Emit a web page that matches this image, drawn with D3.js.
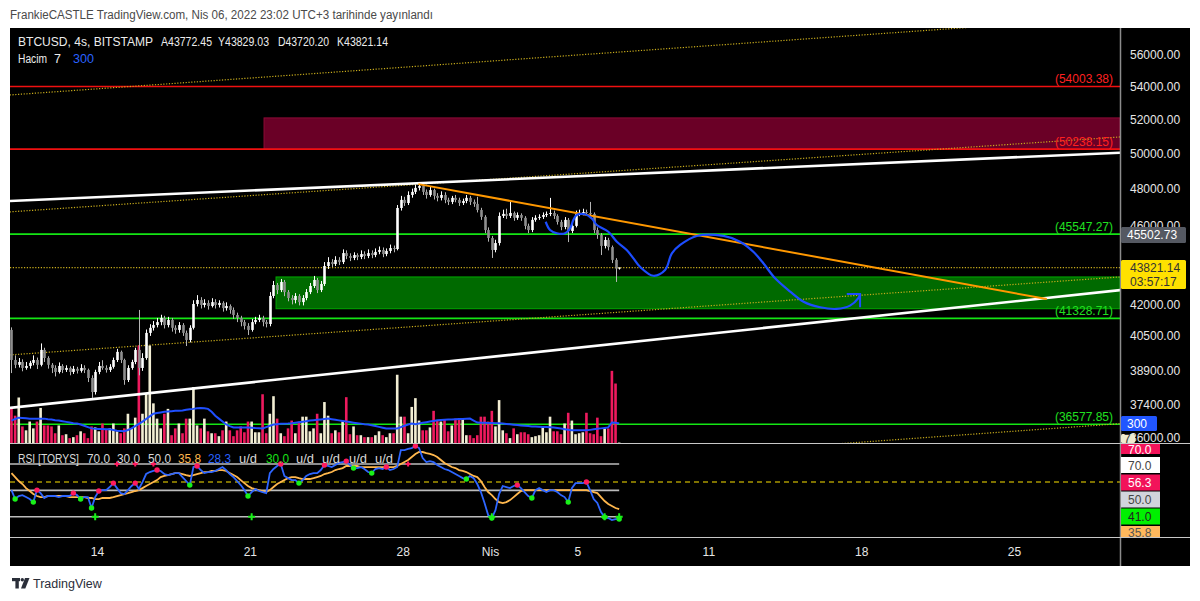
<!DOCTYPE html>
<html><head><meta charset="utf-8">
<script src="https://cdn.jsdelivr.net/npm/d3@7"></script>
<style>
body{margin:0;background:#fff;}
text{font-family:"Liberation Sans",Arial,sans-serif;}
</style></head>
<body><svg id="c" width="1200" height="601"></svg>
<script>
// ---------------- DATA ----------------
const headerText = "FrankieCASTLE TradingView.com, Nis 06, 2022 23:02 UTC+3 tarihinde yayınlandı";
const symbolText = "BTCUSD, 4s, BITSTAMP";
const ohlcLabels = ["A43772.45","Y43829.03","D43720.20","K43821.14"];
const closes = [39390,39170,39300,39030,39120,39260,39390,39170,39850,39480,
 39170,39030,38850,39120,38940,39030,38850,38990,38900,39030,
 38940,38580,37960,38850,39120,39030,38940,39080,39390,39760,
 39390,38490,39030,39300,39850,39030,39480,40640,40880,41010,
 41150,41350,41010,41250,40880,40780,41010,40640,40310,40880,
 42020,42210,41970,42070,41920,42110,41970,42070,41820,41920,
 41730,41490,41350,41150,40970,40780,41150,41250,41350,41150,
 41060,42410,42950,42700,43100,42600,42310,42210,42410,42110,
 42310,42600,42900,43200,42700,43000,43900,44100,44000,44210,
 44100,44560,44410,44310,44460,44360,44510,44410,44560,44460,
 44620,44720,44510,44670,44820,44770,46940,47380,47210,47650,
 47820,48040,48150,47820,47650,47920,47600,47490,47650,47380,
 47270,47490,47380,47210,47320,47490,47270,47160,46830,46460,
 45760,45340,44720,45080,46510,46620,46510,46670,46410,46560,
 46410,45980,45760,46300,46410,46460,46560,46620,46670,46510,
 46190,45920,46300,45710,45980,46620,46670,46720,46670,46620,
 45760,45500,44930,45240,44870,44210,43772.45,43821.14];
const opens = [40780,39390,39170,39300,39030,39120,39260,39390,39170,39850,
 39480,39170,39030,38850,39120,38940,39030,38850,38990,38900,
 39030,38940,38580,37960,38850,39120,39030,38940,39080,39390,
 39760,39390,38490,39030,39300,39850,39030,39480,40640,40880,
 41010,41150,41350,41010,41250,40880,40780,41010,40640,40310,
 40880,42020,42210,41970,42070,41920,42110,41970,42070,41820,
 41920,41730,41490,41350,41150,40970,40780,41150,41250,41350,
 41150,41060,42410,42950,42700,43100,42600,42310,42210,42410,
 42110,42310,42600,42900,43200,42700,43000,43900,44100,44000,
 44210,44100,44560,44410,44310,44460,44360,44510,44410,44560,
 44460,44620,44720,44510,44670,44820,44770,46940,47380,47210,
 47650,47820,48040,48150,47820,47650,47920,47600,47490,47650,
 47380,47270,47490,47380,47210,47320,47490,47270,47160,46830,
 46460,45760,45340,44720,45080,46510,46620,46510,46670,46410,
 46560,46410,45980,45760,46300,46410,46460,46560,46620,46670,
 46510,46190,45920,46300,45710,45980,46620,46670,46720,46670,
 46620,45760,45500,44930,45240,44870,44210,43772.45];
const highs = [40900,39600,39480,39420,39300,39350,39600,39500,40150,39950,
 39560,39250,39150,39280,39200,39150,39100,39120,39080,39200,
 39150,39000,38700,38950,39300,39380,39150,39200,39500,39900,
 39820,39450,39150,39400,39950,41730,39700,40800,41050,41200,
 41350,41500,41450,41400,41350,41000,41150,41100,40750,41000,
 42200,42450,42350,42250,42200,42300,42250,42200,42150,42100,
 42000,41850,41600,41450,41250,41100,41300,41400,41500,41450,
 41250,42600,43150,43050,43250,43200,42700,42450,42550,42500,
 42450,42750,43050,43400,43300,43150,44100,44350,44250,44400,
 44350,44750,44700,44550,44600,44550,44700,44650,44750,44700,
 44800,44900,44850,44800,45000,44950,47100,47600,47550,47850,
 48000,48200,48310,48250,47950,48100,48000,47750,47850,47800,
 47500,47600,47650,47500,47450,47650,47600,47400,47550,46950,
 46550,45900,45450,45250,46700,46850,46900,47300,46750,46700,
 46650,46500,46100,46450,46550,46600,46700,46750,47490,46800,
 46600,46300,46450,46400,46150,46800,46850,46900,46850,47270,
 46700,45900,45600,45400,45350,44950,44300,43829.03];
const lows = [38800,39020,39050,38880,38950,39000,39150,38980,39100,39300,
 39000,38800,38650,38780,38800,38850,38700,38760,38780,38820,
 38800,38400,37700,37850,38750,38950,38820,38850,39000,39300,
 39250,38280,38400,38950,39200,38700,38900,39400,40500,40750,
 40900,41000,40850,40900,40700,40600,40650,40500,40030,40200,
 40800,41900,41800,41850,41750,41850,41800,41850,41650,41700,
 41550,41300,41150,40950,40800,40540,40700,41050,41150,40950,
 40900,40950,42300,42500,42600,42400,42150,42000,42050,41950,
 41950,42200,42500,42800,42550,42600,42900,43750,43850,43900,
 43950,44000,44250,44150,44200,44200,44250,44250,44300,44300,
 44350,44500,44350,44400,44550,44600,44700,46800,47050,47100,
 47500,47700,47900,47650,47450,47550,47400,47300,47350,47200,
 47100,47150,47250,47050,47100,47200,47100,47000,46700,46300,
 45600,45150,44310,44600,44950,46400,46350,46400,46250,46300,
 46250,45800,45600,45650,46200,46300,46350,46450,46500,46350,
 46050,45750,45800,45130,45600,45900,46500,46550,46550,46500,
 45600,45300,44460,44800,44700,44050,43100,43720.20];
const volumes = [540,420,700,255,195,330,225,330,540,270,
 270,255,150,270,120,135,75,90,120,180,
 150,75,255,240,180,300,210,225,300,180,
 150,225,450,225,390,1500,450,760,1500,610,
 375,225,450,525,120,225,300,150,375,375,
 860,270,225,375,180,150,150,105,195,330,
 195,105,195,255,165,330,330,165,165,750,
 150,450,720,375,150,105,225,345,150,330,
 405,405,180,225,450,150,630,420,150,195,
 165,330,705,135,255,120,120,90,90,90,
 120,180,120,90,150,150,1050,405,405,150,
 555,690,345,195,195,240,495,345,330,360,
 180,270,375,375,375,120,120,75,120,405,
 405,330,495,255,660,195,150,75,225,135,
 165,165,135,90,105,120,255,165,405,180,
 180,135,300,465,345,135,150,165,465,150,
 135,390,105,225,225,1110,915,7];
const volumeMA = [345,370,390,385,380,375,375,375,375,375,
 365,360,350,345,335,325,315,305,300,285,
 265,245,225,220,215,215,210,210,200,190,
 185,180,200,225,260,295,330,370,410,450,
 460,470,480,485,490,495,495,500,510,520,
 525,535,540,535,525,480,420,375,330,285,
 260,240,240,240,240,240,235,230,228,225,
 245,265,285,290,295,298,300,305,312,320,
 328,336,345,350,356,362,368,375,366,357,
 348,340,330,322,313,305,298,290,285,272,
 260,248,236,225,225,225,225,245,265,285,
 300,290,300,310,320,330,340,350,355,358,
 360,362,365,368,370,373,375,345,315,313,
 311,309,307,305,302,300,294,288,282,276,
 270,265,260,255,253,250,248,245,243,240,
 231,222,213,204,195,195,195,195,195,202,
 210,218,225,232,240,315,310,300];
const rsi = [50.2,43.4,45.7,46.4,44.9,43.4,41.1,50.2,47.9,44.2,
 45.7,45.7,45.7,44.9,45.7,45.7,45.7,47.9,46.4,43.4,
 44.9,44.9,36.6,44.9,49.5,50.2,50.2,52.5,55.5,51.7,
 47.9,47.2,50.2,53.3,55.5,51.0,56.3,62.4,63.9,64.7,
 65.4,64.7,62.4,61.6,62.4,63.1,63.1,60.1,57.1,54.0,
 67.7,68.5,65.4,63.1,63.9,63.9,64.7,66.2,67.7,65.4,
 62.4,60.1,57.1,54.0,50.2,45.7,48.7,51.0,49.5,48.7,
 47.9,63.1,66.2,68.5,70.0,60.9,59.3,57.8,57.8,55.5,
 57.8,60.9,62.4,63.1,63.1,65.4,69.2,68.5,67.7,69.2,
 70.8,71.5,72.2,69.2,66.9,66.9,67.7,66.2,63.9,63.1,
 66.2,66.9,66.2,67.7,65.4,66.2,67.7,80.6,80.6,81.4,
 82.1,83.6,82.1,74.5,71.5,72.2,71.5,69.2,67.7,66.2,
 65.4,63.9,62.4,60.9,59.3,58.6,60.9,59.3,54.8,48.7,
 40.4,31.2,29.0,35.0,47.2,53.3,52.5,51.7,53.3,54.0,
 51.7,48.7,45.7,44.2,50.2,51.7,50.2,48.7,50.2,50.2,
 48.7,46.4,44.9,41.1,51.7,55.5,55.5,55.5,56.3,50.2,
 43.4,40.4,33.5,29.7,29.0,27.4,28.2,28.3];
const rsiSignal = [63.1,60.1,57.1,54.8,51.7,49.5,47.2,45.7,44.9,44.9,
 45.7,45.7,45.7,45.7,45.7,45.7,44.9,44.9,44.9,44.9,
 44.9,44.2,44.2,43.4,43.4,44.2,44.2,44.2,44.9,45.7,
 46.4,47.2,47.9,48.7,49.5,50.2,51.7,53.3,54.8,56.3,
 57.8,60.1,60.9,61.6,62.4,63.1,63.1,62.4,61.6,60.9,
 61.6,62.4,63.1,63.9,63.9,64.7,64.7,65.4,65.4,64.7,
 63.1,61.6,60.1,57.8,55.5,53.3,51.7,51.0,50.2,49.5,
 48.7,50.2,52.5,54.8,56.3,57.8,59.3,60.1,60.1,59.3,
 58.6,58.6,58.6,59.3,60.1,60.9,62.4,63.1,63.9,65.4,
 66.2,66.9,68.5,68.5,68.5,68.5,67.7,67.7,67.7,67.7,
 67.7,67.7,67.7,67.7,67.7,67.7,68.5,70.0,71.5,73.0,
 75.3,77.6,79.1,79.1,78.3,77.6,76.8,75.3,73.0,70.8,
 69.2,67.7,66.9,65.4,64.7,63.9,62.4,60.9,60.1,57.1,
 52.5,48.7,46.4,43.4,41.1,40.4,41.1,42.6,44.9,47.2,
 49.5,50.2,50.2,50.2,50.2,50.2,50.2,50.2,50.2,50.2,
 50.2,50.2,50.2,50.2,50.2,50.2,50.2,50.2,50.2,49.5,
 48.7,47.9,44.9,41.9,39.6,38.1,36.6,35.8];
const pinkDotIdx = [7,17,24,28,34,40,51,74,86,92,103,111,139,158];
const greenDotIdx = [1,6,19,22,49,65,79,94,99,125,132,143,153,163,167];
const greenPlusIdx = [23,66,132,163,167];
const pinkPlusIdx = [29,34,39,109];
const rsiLevels = [70,50,30];
const rsiMidLevel = 56.3;
const rsiTitle = ["RSI [TORYS]","70.0","30.0","50.0","35.8","28.3","u/d","30.0","u/d","u/d","u/d","u/d"];
const rsiAxisLabels = ["70.0","70.0","56.3","50.0","41.0","35.8"];

const priceTicks = [56000,54000,52000,50000,48000,46000,42000,40500,38900,37400,36000];
const xTickDates = ["2022-03-14","2022-03-21","2022-03-28","2022-04-01","2022-04-05","2022-04-11","2022-04-18","2022-04-25"];
const xTickLabels = ["14","21","28","Nis","5","11","18","25"];

const redLevels = [54003.38, 50238.15];
const greenLevels = [45547.27, 41328.71, 36577.85];
const redZoneStartDay = 7.65, redZonePrices = [52080, 50238.15];
const greenZoneStartDay = 8.2, greenZonePrices = [43350, 41790];
const trendDays = [-4, 47];
const upperTrendPrices = [47320, 50040];
const lowerTrendPrices = [37270, 42710];
const dottedA = [53475, 58540], dottedB = [46730, 50960], dottedC = [39620, 43360], dottedD = [33400, 36610];
const orangeDays = [14.72, 43.5], orangePrices = [48250, 42260];
const blueCurveDays = [20.55,20.75,21.06,21.44,21.67,21.82,21.97,22.35,22.66,22.89,23.42,23.81,24.26,24.57,24.87,25.48,26.02,26.33,26.71,27.47,28.69,29.45,30.06,30.52,31.06,31.75,32.36,33.12,33.88,34.49,34.87,34.95];
const blueCurvePrices = [46200,45760,45590,45590,45850,46300,46560,46600,46380,46030,45670,45150,44720,44290,43860,43410,43700,44550,44980,45450,45450,45150,44630,44040,43280,42620,42130,41860,41780,41940,42300,42500];
const arrowDays = [34.34, 34.95, 34.95], arrowPrices = [42500, 42500, 41860];
const lastPrice = 43821.14, lastPriceTimer = "03:57:17";
const greyLabelPrice = 45502.73;
const volLast = 7, volMALast = 300;

// ---------------- CHART ----------------
const svg = d3.select("#c");
const L = 10, R = 1120, CR = 1190, T = 28, MB = 443, RT = 444, RB = 537, AB = 566;
const FONT = '"Liberation Sans",Arial,sans-serif';

svg.append("rect").attr("width",1200).attr("height",601).attr("fill","#fff");
svg.append("text").attr("x",10).attr("y",19).attr("font-size",12).attr("fill","#4a4a4a")
  .attr("textLength",423).attr("lengthAdjust","spacingAndGlyphs").text(headerText);
svg.append("rect").attr("x",L).attr("y",T).attr("width",CR-L).attr("height",AB-T).attr("fill","#000");

const x = d3.scaleUtc().domain([Date.UTC(2022,2,14), Date.UTC(2022,3,25)]).range([97,1014]);
const y = d3.scaleLog().domain([36000,56000]).range([438,55]);
const yV = d3.scaleLinear().domain([0,1200]).range([443,365]);
const yR = d3.scaleLinear().domain([30,70]).range([516.7,464]);
const dayDate = d => new Date(Date.UTC(2022,2,14) + d*864e5);
const dx = d => x(dayDate(d));
const tOf = i => new Date(Date.UTC(2022,2,10) + (4*i+2)*36e5);
const cx = i => x(tOf(i));

const defs = svg.append("defs");
defs.append("clipPath").attr("id","mc").append("rect").attr("x",L).attr("y",T).attr("width",R-L).attr("height",MB-T);
defs.append("clipPath").attr("id","rc").append("rect").attr("x",L).attr("y",RT).attr("width",R-L).attr("height",RB-RT);

const main = svg.append("g").attr("clip-path","url(#mc)");

// zones
main.append("rect").attr("x",dx(redZoneStartDay)).attr("y",y(redZonePrices[0]))
  .attr("width",R-dx(redZoneStartDay)).attr("height",y(redZonePrices[1])-y(redZonePrices[0]))
  .attr("fill","#6a0026").attr("stroke","#8c0a36").attr("stroke-width",1);
main.append("rect").attr("x",dx(greenZoneStartDay)).attr("y",y(greenZonePrices[0]))
  .attr("width",R-dx(greenZoneStartDay)).attr("height",y(greenZonePrices[1])-y(greenZonePrices[0]))
  .attr("fill","#006a00").attr("stroke","#00a800").attr("stroke-width",1);

// horizontal levels
redLevels.forEach(v=>{
  main.append("line").attr("x1",L).attr("x2",R).attr("y1",y(v)).attr("y2",y(v)).attr("stroke","#f01010").attr("stroke-width",1.6);
});
greenLevels.forEach(v=>{
  main.append("line").attr("x1",L).attr("x2",R).attr("y1",y(v)).attr("y2",y(v)).attr("stroke","#14e614").attr("stroke-width",1.6);
});

// dotted channel lines
[dottedA,dottedB,dottedC,dottedD].forEach(pr=>{
  main.append("line").attr("x1",dx(trendDays[0])).attr("y1",y(pr[0])).attr("x2",dx(trendDays[1])).attr("y2",y(pr[1]))
    .attr("stroke","#c9ad1c").attr("stroke-width",1.2).attr("stroke-dasharray","1.2,1.6");
});
// current price dotted line
main.append("line").attr("x1",L).attr("x2",R).attr("y1",y(lastPrice)).attr("y2",y(lastPrice))
  .attr("stroke","#c9ad1c").attr("stroke-width",1.2).attr("stroke-dasharray","1.2,1.6");

// volume bars
const idx = d3.range(closes.length);
const up = i => closes[i] >= opens[i];
main.append("g").selectAll("rect").data(idx).join("rect")
  .attr("x",i=>cx(i)-1.3).attr("width",2.6)
  .attr("y",i=>yV(volumes[i])).attr("height",i=>Math.max(0.5,yV(0)-yV(volumes[i])))
  .attr("fill",i=>up(i)?"#f2eed3":"#ee1a5e");
main.append("path").datum(idx).attr("fill","none").attr("stroke","#1f4fff").attr("stroke-width",2)
  .attr("d",d3.line().x(i=>cx(i)).y(i=>yV(volumeMA[i])));

// trend lines (white)
[upperTrendPrices,lowerTrendPrices].forEach(pr=>{
  main.append("line").attr("x1",dx(trendDays[0])).attr("y1",y(pr[0])).attr("x2",dx(trendDays[1])).attr("y2",y(pr[1]))
    .attr("stroke","#ffffff").attr("stroke-width",2.6);
});

// candles
const cg = main.append("g");
cg.selectAll("line").data(idx).join("line")
  .attr("x1",i=>Math.round(cx(i))+0.5).attr("x2",i=>Math.round(cx(i))+0.5)
  .attr("y1",i=>y(highs[i])).attr("y2",i=>y(lows[i]))
  .attr("stroke",i=>up(i)?"#ffffff":"#b4b4b4").attr("stroke-width",1);
cg.selectAll("rect").data(idx).join("rect")
  .attr("x",i=>Math.round(cx(i))+0.5-1.3).attr("width",2.6)
  .attr("y",i=>Math.min(y(opens[i]),y(closes[i])))
  .attr("height",i=>Math.max(1,Math.abs(y(opens[i])-y(closes[i]))))
  .attr("fill",i=>up(i)?"#ffffff":"#8e8e8e");

// orange trend line
main.append("line").attr("x1",dx(orangeDays[0])).attr("y1",y(orangePrices[0])).attr("x2",dx(orangeDays[1])).attr("y2",y(orangePrices[1]))
  .attr("stroke","#ff9800").attr("stroke-width",2);

// blue hand-drawn path + arrow
const bl = d3.line().curve(d3.curveCatmullRom.alpha(0.5)).x(d=>dx(d[0])).y(d=>y(d[1]));
main.append("path").datum(blueCurveDays.map((d,i)=>[d,blueCurvePrices[i]]))
  .attr("fill","none").attr("stroke","#1c4dff").attr("stroke-width",2.2).attr("d",bl);
main.append("path").datum(arrowDays.map((d,i)=>[d,arrowPrices[i]]))
  .attr("fill","none").attr("stroke","#1c4dff").attr("stroke-width",2)
  .attr("d",d3.line().x(d=>dx(d[0])).y(d=>y(d[1])));

// level labels
const lvlLabel = (v,col)=> svg.append("text").attr("x",R-7).attr("y",y(v)-3).attr("text-anchor","end")
  .attr("font-size",12).attr("fill",col).text("("+d3.format(".2f")(v)+")");
redLevels.forEach(v=>lvlLabel(v,"#ff2020"));
greenLevels.forEach(v=>lvlLabel(v,"#20e020"));

// legend text
svg.append("text").attr("x",18).attr("y",46).attr("font-size",12.5).attr("fill","#ececec")
  .attr("textLength",135).attr("lengthAdjust","spacingAndGlyphs").text(symbolText);
const ohlcX = [161,218,278,337];
ohlcLabels.forEach((t,i)=>svg.append("text").attr("x",ohlcX[i]).attr("y",46).attr("font-size",12.5)
  .attr("textLength",51).attr("lengthAdjust","spacingAndGlyphs").attr("fill","#ececec").text(t));
svg.append("text").attr("x",18).attr("y",63).attr("font-size",12.5).attr("fill","#ececec")
  .attr("textLength",29).attr("lengthAdjust","spacingAndGlyphs").text("Hacim");
svg.append("text").attr("x",54).attr("y",63).attr("font-size",12.5).attr("fill","#ececec").text(String(volLast));
svg.append("text").attr("x",73).attr("y",63).attr("font-size",12.5).attr("fill","#2962ff").text(String(volMALast));

// ---------------- RSI pane ----------------
const rg = svg.append("g").attr("clip-path","url(#rc)");
const lastX = cx(closes.length-1);
rsiLevels.forEach(v=>{
  rg.append("line").attr("x1",L).attr("x2",lastX).attr("y1",yR(v)).attr("y2",yR(v)).attr("stroke","#bcbcbc").attr("stroke-width",1.6);
});
rg.append("line").attr("x1",L).attr("x2",R).attr("y1",yR(rsiMidLevel)).attr("y2",yR(rsiMidLevel))
  .attr("stroke","#a89600").attr("stroke-width",1.4).attr("stroke-dasharray","5,4");
rg.append("path").datum(idx).attr("fill","none").attr("stroke","#ffb74d").attr("stroke-width",1.8)
  .attr("d",d3.line().x(i=>cx(i)).y(i=>yR(rsiSignal[i])));
rg.append("path").datum(idx).attr("fill","none").attr("stroke","#2e66ff").attr("stroke-width",1.8)
  .attr("d",d3.line().x(i=>cx(i)).y(i=>yR(rsi[i])));
rg.selectAll("circle.p").data(pinkDotIdx).join("circle").attr("class","p")
  .attr("cx",i=>cx(i)).attr("cy",i=>yR(rsi[i])).attr("r",2.7).attr("fill","#ff1a5e");
rg.selectAll("circle.g").data(greenDotIdx).join("circle").attr("class","g")
  .attr("cx",i=>cx(i)).attr("cy",i=>yR(rsi[i])).attr("r",2.7).attr("fill","#19f019");
const plus = (g,i,v,s,col)=>{
  g.append("path").attr("d",`M${cx(i)-s},${yR(v)}h${2*s}M${cx(i)},${yR(v)-s}v${2*s}`).attr("stroke",col).attr("stroke-width",2);
};
greenPlusIdx.forEach(i=>plus(rg,i,30,3.5,"#19f019"));
pinkPlusIdx.forEach(i=>plus(rg,i,70,2.5,"#ff1a5e"));

// RSI title
const titleX = [18,87,117,148,178,208,239,266,296,322,349,375];
const titleW = [61,23,23,23,23,23,18,23,18,18,18,18];
const titleCol = ["#d8d8d8","#d8d8d8","#d8d8d8","#d8d8d8","#ffb74d","#2962ff","#d8d8d8","#19e019","#d8d8d8","#d8d8d8","#d8d8d8","#d8d8d8"];
rsiTitle.forEach((t,i)=>svg.append("text").attr("x",titleX[i]).attr("y",463).attr("font-size",12)
  .attr("textLength",titleW[i]).attr("lengthAdjust","spacingAndGlyphs").attr("fill",titleCol[i]).text(t));

// ---------------- separators ----------------
svg.append("line").attr("x1",R+0.5).attr("x2",R+0.5).attr("y1",T).attr("y2",AB).attr("stroke","#8c8c8c").attr("stroke-width",1.5);
svg.append("line").attr("x1",L).attr("x2",CR).attr("y1",MB+0.5).attr("y2",MB+0.5).attr("stroke","#c8c8c8").attr("stroke-width",1);
svg.append("line").attr("x1",L).attr("x2",CR).attr("y1",RB+0.5).attr("y2",RB+0.5).attr("stroke","#c8c8c8").attr("stroke-width",1);

// ---------------- axes ----------------
const ya = svg.append("g").attr("transform",`translate(${R},0)`)
  .call(d3.axisRight(y).tickValues(priceTicks).tickFormat(d3.format(".2f")).tickSize(0).tickPadding(10));
ya.select(".domain").remove();
ya.selectAll("text").attr("fill","#e6e6e6").attr("font-size",12).attr("font-family",FONT);

const xa = svg.append("g").attr("transform",`translate(0,${RB})`)
  .call(d3.axisBottom(x).tickValues(xTickDates.map(s=>new Date(s+"T00:00:00Z"))).tickFormat((d,i)=>xTickLabels[i]).tickSize(0).tickPadding(10));
xa.select(".domain").remove();
xa.selectAll("text").attr("fill","#e6e6e6").attr("font-size",12).attr("font-family",FONT);

// ---------------- axis label boxes ----------------
const box = (yc,h,w,bg,fg,txt,txt2)=>{
  svg.append("rect").attr("x",R+1).attr("y",yc-h/2).attr("width",w).attr("height",h).attr("rx",1.5).attr("fill",bg);
  if(txt2){
    svg.append("text").attr("x",R+10).attr("y",yc-7).attr("dominant-baseline","central").attr("font-size",12).attr("fill",fg).text(txt);
    svg.append("text").attr("x",R+10).attr("y",yc+7).attr("dominant-baseline","central").attr("font-size",12).attr("fill",fg).text(txt2);
  } else {
    svg.append("text").attr("x",R+(w>30?7:4)).attr("y",yc+0.5).attr("dominant-baseline","central").attr("font-size",12).attr("fill",fg).text(txt);
  }
};
box(y(greyLabelPrice),16,65,"#555962","#ffffff",d3.format(".2f")(greyLabelPrice));
box(y(lastPrice)+7,29,65,"#ffe100","#333333",d3.format(".2f")(lastPrice),lastPriceTimer);
box(yV(volMALast),15,36,"#2156ff","#ffffff",String(volMALast));
box(438.5,9,14,"#efebcf","#333333",String(volLast));
// RSI labels
const rsiBoxY = [449,465,482.5,499.5,516.5,532];
const rsiBoxBg = ["#f2135a","#ffffff","#f2135a","#d1d4dc","#00f000","#ffb85c"];
const rsiBoxFg = ["#ffffff","#444444","#ffffff","#444444","#222222","#555555"];
const rg2 = svg.append("g");
rsiAxisLabels.forEach((t,i)=>{
  const h = i===0?10:(i===5?11:16);
  const top = i===0?RT:(i===5?RB-11:rsiBoxY[i]-8);
  rg2.append("rect").attr("x",R+1).attr("y",top).attr("width",39).attr("height",h).attr("fill",rsiBoxBg[i]);
  rg2.append("text").attr("x",R+8).attr("y",rsiBoxY[i]+0.5).attr("dominant-baseline","central").attr("font-size",12).attr("fill",rsiBoxFg[i]).text(t);
});

// ---------------- footer ----------------
const logo = svg.append("g").attr("fill","#2a2e39");
logo.append("rect").attr("x",12).attr("y",578).attr("width",8).attr("height",3.2);
logo.append("rect").attr("x",15.4).attr("y",578).attr("width",3.4).attr("height",10.5);
logo.append("circle").attr("cx",22.3).attr("cy",579.8).attr("r",1.7);
logo.append("path").attr("d","M25,578 L29.5,578 L25.3,588.5 L21,588.5 Z");
svg.append("text").attr("x",33).attr("y",588).attr("font-size",12.5).attr("fill","#2a2e39").text("TradingView");
</script>
</body></html>
